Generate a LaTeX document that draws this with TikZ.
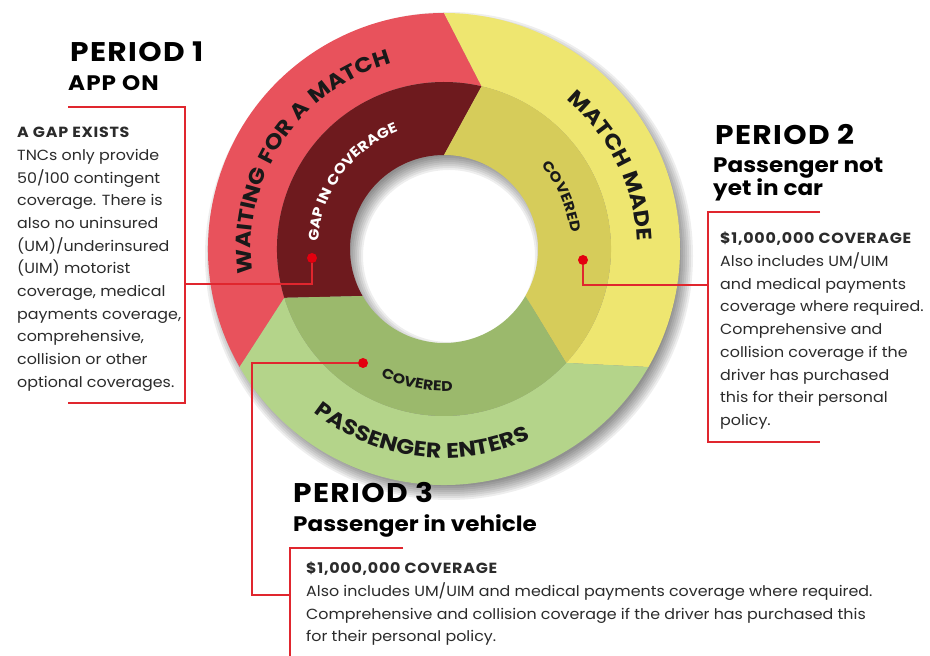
\documentclass[tikz,border=0pt]{standalone}
\usepackage{fontspec}
\setmainfont{Poppins}[FakeStretch=1.08]
\newfontfamily\headfont{Poppins}[FakeStretch=1.1]
\newfontfamily\ringfont{Poppins}[FakeStretch=1.12, LetterSpace=4]
\usetikzlibrary{decorations.text}
\definecolor{redout}{HTML}{E8525C}
\definecolor{redin}{HTML}{6E1A1E}
\definecolor{yelout}{HTML}{EEE670}
\definecolor{yelin}{HTML}{D6CC5A}
\definecolor{grnout}{HTML}{B4D48A}
\definecolor{grnin}{HTML}{9BB96C}
\definecolor{linered}{HTML}{E0262E}
\definecolor{dotred}{HTML}{E3000F}
\definecolor{bodytxt}{HTML}{2B2B2B}
\newcommand\RO{236}
\newcommand\RM{167}
\newcommand\RI{94}
\newcommand\RingOuter[2]{%
  \fill[#2] (#1:\RO) arc[start angle=#1, end angle=#1-120, radius=\RO]
    -- (#1-133:\RM) arc[start angle=#1-133, end angle=#1-13, radius=\RM] -- cycle;}
\newcommand\RingInner[2]{%
  \fill[#2] (#1-13:\RM) arc[start angle=#1-13, end angle=#1-133, radius=\RM]
    -- (#1-120:\RI) arc[start angle=#1-120, end angle=#1, radius=\RI] -- cycle;}
\newcommand\BodyHead[1]{{\bfseries\addfontfeature{LetterSpace=5}#1}}
\begin{document}
\begin{tikzpicture}[x=1pt,y=1pt,
  conn/.style={draw=linered, line width=1.4pt},
  bracket/.style={draw=linered, line width=1.4pt},
  dotnode/.style={circle, fill=dotred, inner sep=0pt, minimum size=10pt},
  period/.style={anchor=base west, inner sep=0pt, font=\headfont\fontsize{27}{27}\selectfont\bfseries\addfontfeature{LetterSpace=5}, text=black},
  subhead/.style={anchor=base west, inner sep=0pt, font=\headfont\fontsize{21}{21}\selectfont\bfseries, text=black},
  subheadcaps/.style={subhead, font=\headfont\fontsize{21}{21}\selectfont\bfseries\addfontfeature{LetterSpace=5}},
  body/.style={anchor=north west, inner sep=0pt, align=left, font=\fontsize{14.7}{22.7}\selectfont, text=bodytxt},
  bigring/.style={decorate, decoration={text along path, text align=center, text color=black!90,
      text={|\ringfont\fontsize{21}{21}\selectfont\bfseries|#1}}},
  smallring/.style={decorate, decoration={text along path, text align=center, text color=black!90,
      text={|\ringfont\fontsize{14}{14}\selectfont\bfseries|#1}}},
  smallringw/.style={decorate, decoration={text along path, text align=center, text color=white,
      text={|\ringfont\fontsize{14}{14}\selectfont\bfseries|#1}}},
]
\useasboundingbox (0,0) rectangle (930,656);
\fill[white] (0,0) rectangle (930,656);

% ring
\begin{scope}[shift={(444,407)}]
  \foreach \s in {-6,-4,...,8}
    \fill[black, opacity=0.065, even odd rule] (5,-7) circle ({\RO+\s}) (5,-7) circle ({\RI-\s});
  \RingOuter{210}{redout}
  \RingInner{210}{redin}
  \RingOuter{90}{yelout}
  \RingInner{90}{yelin}
  \RingOuter{-30}{grnout}
  \RingInner{-30}{grnin}
  \path[bigring={WAITING FOR A MATCH}] (206.5:193) arc[start angle=206.5, end angle=86.5, radius=193];
  \path[bigring={MATCH MADE}] (86.5:193) arc[start angle=86.5, end angle=-33.5, radius=193];
  \path[bigring={PASSENGER ENTERS}] (203:209) arc[start angle=203, end angle=323, radius=209];
  \path[smallringw={GAP IN COVERAGE}] (204:126) arc[start angle=204, end angle=84, radius=126];
  \path[smallring={COVERED}] (84:128) arc[start angle=84, end angle=-36, radius=128];
  \path[smallring={COVERED}] (198.5:142) arc[start angle=198.5, end angle=318.5, radius=142];
\end{scope}

% dots
\node[dotnode] (d1) at (312,398) {};
\node[dotnode] (d2) at (583,396) {};
\node[dotnode] (d3) at (363,293) {};

% period 1
\node[period] (p1) at (70,594) {PERIOD 1};
\node[subheadcaps] (s1) at (68,565) {APP ON};
\draw[bracket] (68,549) coordinate (t1) -- (185,549) -- (185,253) -- (68,253) coordinate (u1);
\coordinate (b1) at (185,372);
\draw[conn] (d1) |- (b1);
\node[body] (x1) at (17,529) {\BodyHead{A GAP EXISTS}\\
TNCs only provide\\
50/100 contingent\\
coverage. There is\\
also no uninsured\\
(UM)/underinsured\\
(UIM) motorist\\
coverage, medical\\
payments coverage,\\
comprehensive,\\
collision or other\\
optional coverages.};

% period 2
\node[period] (p2) at (715,511) {PERIOD 2};
\node[subhead] (s2) at (713,483) {Passenger not};
\node[subhead] (s2b) at (713,460) {yet in car};
\draw[bracket] (820,444) coordinate (t2) -- (708,444) -- (708,214) -- (820,214) coordinate (u2);
\coordinate (b2) at (708,371);
\draw[conn] (d2) |- (b2);
\node[body] (x2) at (720,424) {\BodyHead{\$1,000,000 COVERAGE}\\
Also includes UM/UIM\\
and medical payments\\
coverage where required.\\
Comprehensive and\\
collision coverage if the\\
driver has purchased\\
this for their personal\\
policy.};

% period 3
\node[period] (p3) at (293,153) {PERIOD 3};
\node[subhead] (s3) at (293,124) {Passenger in vehicle};
\draw[bracket] (403,108) coordinate (t3) -- (290,108) -- (290,0) coordinate (u3);
\coordinate (c3) at (252,61);
\coordinate (b3) at (290,61);
\draw[conn] (d3) -| (c3) -- (b3);
\node[body] (x3) at (306,94) {\BodyHead{\$1,000,000 COVERAGE}\\
Also includes UM/UIM and medical payments coverage where required.\\
Comprehensive and collision coverage if the driver has purchased this\\
for their personal policy.};
\end{tikzpicture}
\end{document}
